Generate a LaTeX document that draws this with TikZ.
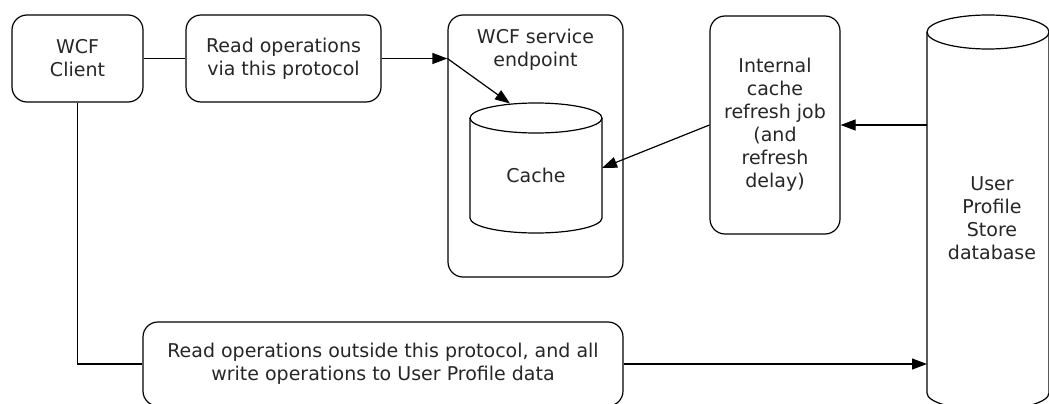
\documentclass[tikz,border=0pt]{standalone}
\usepackage{fontspec}
\setmainfont{DejaVu Sans}
\usetikzlibrary{arrows.meta}
\begin{document}
\begin{tikzpicture}[x=1pt,y=-1pt,
  every node/.style={font=\fontsize{19}{23}\selectfont, text=black!85, align=center},
  box/.style={draw, line width=1.2pt, rounded corners=15pt, inner sep=0pt},
  conn/.style={line width=1.2pt},
  arr/.style={line width=1.2pt, -{Triangle[length=15pt,width=11pt]}}]
\useasboundingbox (0,0) rectangle (1049,404);
% boxes
\node[box, minimum width=131pt, minimum height=87pt] (client) at (77.5,58.5) {WCF\\Client};
\node[box, minimum width=195pt, minimum height=87pt] (proto) at (283.5,58.5) {Read operations\\via this protocol};
\node[box, minimum width=175pt, minimum height=262pt] (ep) at (535.5,146) {};
\node (eptext) at (535.5,50) {WCF service\\endpoint};
\node[box, minimum width=130pt, minimum height=218pt] (job) at (775,125) {Internal\\cache\\refresh job\\(and\\refresh\\delay)};
\node[box, minimum width=480pt, minimum height=84pt] (bottom) at (383,364) {Read operations outside this protocol, and all\\write operations to User Profile data};
% cache cylinder
\draw[conn, fill=white] (470,118) -- (470,218) arc[start angle=180, end angle=360, x radius=66pt, y radius=15pt] -- (602,118);
\draw[conn] (536,118) ellipse[x radius=66pt, y radius=15pt];
\node (cache) at (536,175) {Cache};
\coordinate (cachetop) at (510,103.5);
\coordinate (cacheright) at (602,168);
% database cylinder
\draw[conn] (927,32) -- (927,393) arc[start angle=180, end angle=360, x radius=61pt, y radius=17pt] -- (1049,32);
\draw[conn] (988,32) ellipse[x radius=61pt, y radius=17pt];
\node (db) at (992,218) {User\\Profile\\Store\\database};
\coordinate (dbtop) at (927,125);
\coordinate (dbbot) at (927,364);
% connectors
\draw[conn] (client.east) -- (proto.west);
\coordinate (epin) at (ep.west |- proto.east);
\draw[arr] (proto.east) -- (epin);
\draw[arr] (epin) -- (cachetop);
\draw[arr] (job.west |- 0,125) -- (cacheright);
\draw[arr] (dbtop) -- (job.east |- dbtop);
\coordinate (corner) at (client.south |- 0,364);
\draw[conn] (client.south) -- (corner) -- (bottom.west |- corner);
\draw[arr] (bottom.east |- corner) -- (dbbot);
\end{tikzpicture}
\end{document}
